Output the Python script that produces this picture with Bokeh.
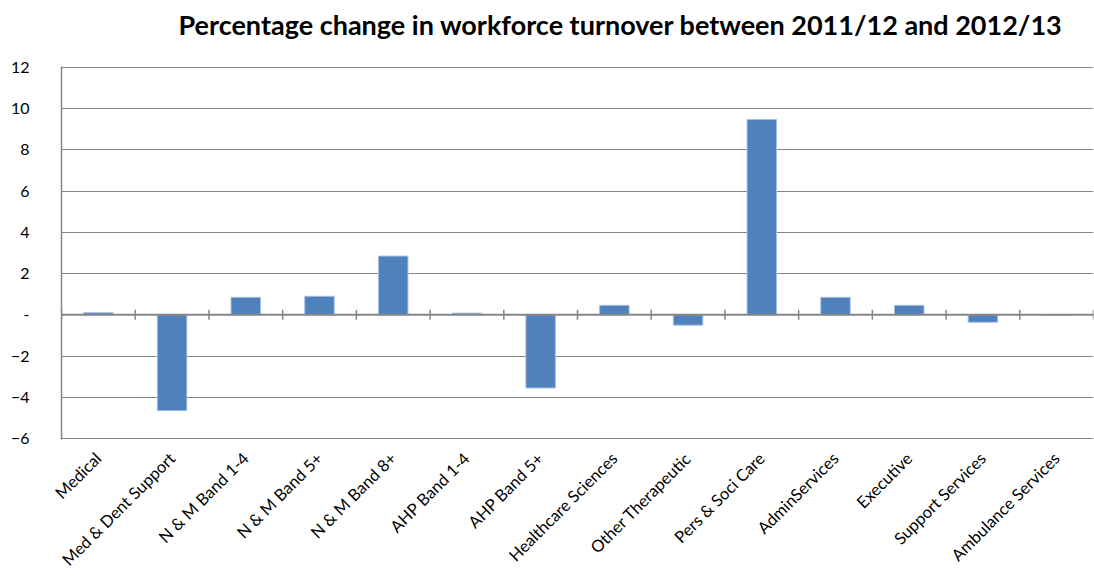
import numpy as np
from math import pi
from bokeh.plotting import figure
from bokeh.models import ColumnDataSource, FixedTicker, Span, Range1d, Title
from bokeh.embed import file_html
from bokeh.resources import INLINE

categories = ["Medical", "Med & Dent Support", "N & M Band 1-4", "N & M Band 5+",
              "N & M Band 8+", "AHP Band 1-4", "AHP Band 5+", "Healthcare Sciences",
              "Other Therapeutic", "Pers & Soci Care", "AdminServices", "Executive",
              "Support Services", "Ambulance Services"]
values = [0.1, -4.65, 0.85, 0.9, 2.85, 0.08, -3.55, 0.46, -0.5, 9.48, 0.85, 0.46, -0.36, 0.0]
y_ticks = [-6, -4, -2, 0, 2, 4, 6, 8, 10, 12]
title_text = "Percentage change in workforce turnover between 2011/12 and 2012/13"

FONT = "Lato"
GRAY = "#868686"
n = len(categories)
xs = np.arange(n) + 0.5

src = ColumnDataSource(dict(x=xs, top=values, cat=categories))

p = figure(width=1094, height=581, output_backend="svg", toolbar_location=None,
           title=None,
           x_range=Range1d(0, n), y_range=Range1d(-6.05, 12.05),
           min_border_left=61, min_border_right=1, min_border_top=66,
           min_border_bottom=142)
p.outline_line_color = None
p.background_fill_color = "white"

# spacer (closest to the frame), then the main title above it
p.add_layout(Title(text=" ", text_font_size="1px", standoff=21), "above")
p.add_layout(Title(text=title_text, text_font=FONT, text_font_size="27px",
                   text_font_style="bold", align="left", offset=117,
                   standoff=4, text_color="black"), "above")

p.vbar(x="x", top="top", bottom=0, width=0.4, source=src,
       fill_color="#4F81BD", line_color="#A7BFDE", line_width=1)

p.add_layout(Span(location=0, dimension="width", line_color=GRAY, line_width=2))
p.scatter(x=np.arange(n + 1), y=np.zeros(n + 1), marker="dash", angle=pi / 2,
          size=10, line_color=GRAY, line_width=1.5)

# y axis
ya = p.yaxis[0]
ya.ticker = FixedTicker(ticks=y_ticks)
ya.major_label_overrides = {0: "-"}
ya.axis_line_color = GRAY
ya.axis_line_width = 1.5
ya.major_tick_line_color = None
ya.minor_tick_line_color = None
ya.major_label_standoff = 26
ya.major_label_text_font = FONT
ya.major_label_text_font_size = "16px"
ya.major_label_text_color = "black"

p.ygrid.ticker = FixedTicker(ticks=y_ticks)
p.ygrid.grid_line_color = GRAY
p.ygrid.grid_line_width = 1.2
p.xgrid.grid_line_color = None

# x axis
xa = p.xaxis[0]
xa.ticker = FixedTicker(ticks=list(xs))
xa.major_label_overrides = {float(x): c for x, c in zip(xs, categories)}
xa.major_label_orientation = pi / 4
xa.axis_line_color = None
xa.major_tick_line_color = None
xa.minor_tick_line_color = None
xa.major_label_standoff = 10
xa.major_label_text_font = FONT
xa.major_label_text_font_size = "16.5px"
xa.major_label_text_color = "black"

open("out.html", "w").write(file_html(p, INLINE))
